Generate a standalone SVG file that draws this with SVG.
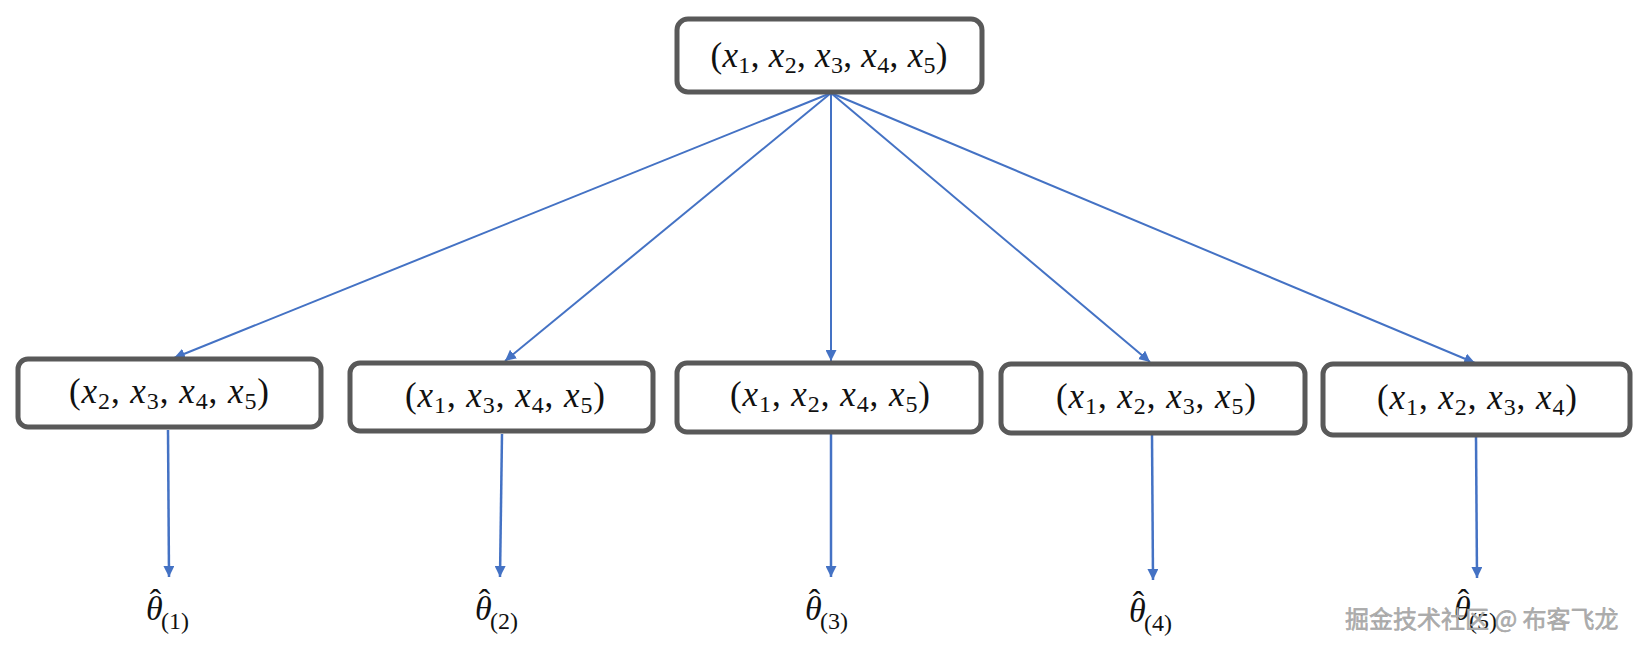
<svg xmlns="http://www.w3.org/2000/svg" width="1650" height="652" viewBox="0 0 1650 652">
<defs>
<style>
.box{fill:#fff;stroke:#595959;stroke-width:5}
.lbl{font-family:"Liberation Serif","DejaVu Serif",serif;font-size:35px;fill:#111}
.v{font-style:italic}
.s{font-size:24px}
.th{font-family:"Liberation Serif","DejaVu Serif",serif;font-size:34px;fill:#111}
.ts{font-size:24px}
.edge{stroke:#4472C4;stroke-width:2;fill:none}
.down{stroke:#4472C4;stroke-width:2.5;fill:none}
.wm{font-family:"Noto Sans CJK SC","Liberation Sans",sans-serif;font-size:24px;fill:#ababab;stroke:#7a7a7a;stroke-width:0.4;paint-order:stroke}
</style>
<marker id="ah" viewBox="0 0 10 10" refX="10" refY="5" markerWidth="11" markerHeight="11" markerUnits="userSpaceOnUse" orient="auto">
<path d="M0,0 L10,5 L0,10 z" fill="#4472C4"/>
</marker>
</defs>
<rect width="1650" height="652" fill="#fff"/>

<g id="connectors">
<line class="edge" x1="831" y1="93" x2="174" y2="358" marker-end="url(#ah)"/>
<line class="edge" x1="831" y1="93" x2="505" y2="361" marker-end="url(#ah)"/>
<line class="edge" x1="831" y1="93" x2="831" y2="361" marker-end="url(#ah)"/>
<line class="edge" x1="831" y1="93" x2="1150" y2="362" marker-end="url(#ah)"/>
<line class="edge" x1="831" y1="93" x2="1475" y2="363" marker-end="url(#ah)"/>
<line class="down" x1="168" y1="430" x2="169" y2="577" marker-end="url(#ah)"/>
<line class="down" x1="502" y1="434" x2="500" y2="577" marker-end="url(#ah)"/>
<line class="down" x1="831" y1="434" x2="831" y2="577" marker-end="url(#ah)"/>
<line class="down" x1="1152" y1="435" x2="1153" y2="580" marker-end="url(#ah)"/>
<line class="down" x1="1476" y1="437" x2="1477" y2="578" marker-end="url(#ah)"/>
</g>

<g id="root">
<rect class="box" x="677" y="19" width="305" height="73" rx="11"/>
<text class="lbl" x="829" y="67" text-anchor="middle" textLength="237" lengthAdjust="spacing">(<tspan class="v">x</tspan><tspan class="s" dy="6">1</tspan><tspan dy="-6">, </tspan><tspan class="v">x</tspan><tspan class="s" dy="6">2</tspan><tspan dy="-6">, </tspan><tspan class="v">x</tspan><tspan class="s" dy="6">3</tspan><tspan dy="-6">, </tspan><tspan class="v">x</tspan><tspan class="s" dy="6">4</tspan><tspan dy="-6">, </tspan><tspan class="v">x</tspan><tspan class="s" dy="6">5</tspan><tspan dy="-6">)</tspan></text>
</g>

<g id="n1">
<rect class="box" x="18" y="359" width="303" height="68" rx="10"/>
<text class="lbl" x="169" y="403" text-anchor="middle" textLength="200" lengthAdjust="spacing">(<tspan class="v">x</tspan><tspan class="s" dy="6">2</tspan><tspan dy="-6">, </tspan><tspan class="v">x</tspan><tspan class="s" dy="6">3</tspan><tspan dy="-6">, </tspan><tspan class="v">x</tspan><tspan class="s" dy="6">4</tspan><tspan dy="-6">, </tspan><tspan class="v">x</tspan><tspan class="s" dy="6">5</tspan><tspan dy="-6">)</tspan></text>
</g>

<g id="n2">
<rect class="box" x="350" y="363" width="303" height="68" rx="10"/>
<text class="lbl" x="505" y="407" text-anchor="middle" textLength="200" lengthAdjust="spacing">(<tspan class="v">x</tspan><tspan class="s" dy="6">1</tspan><tspan dy="-6">, </tspan><tspan class="v">x</tspan><tspan class="s" dy="6">3</tspan><tspan dy="-6">, </tspan><tspan class="v">x</tspan><tspan class="s" dy="6">4</tspan><tspan dy="-6">, </tspan><tspan class="v">x</tspan><tspan class="s" dy="6">5</tspan><tspan dy="-6">)</tspan></text>
</g>

<g id="n3">
<rect class="box" x="677" y="363" width="304" height="69" rx="10"/>
<text class="lbl" x="830" y="406" text-anchor="middle" textLength="200" lengthAdjust="spacing">(<tspan class="v">x</tspan><tspan class="s" dy="6">1</tspan><tspan dy="-6">, </tspan><tspan class="v">x</tspan><tspan class="s" dy="6">2</tspan><tspan dy="-6">, </tspan><tspan class="v">x</tspan><tspan class="s" dy="6">4</tspan><tspan dy="-6">, </tspan><tspan class="v">x</tspan><tspan class="s" dy="6">5</tspan><tspan dy="-6">)</tspan></text>
</g>

<g id="n4">
<rect class="box" x="1001" y="364" width="304" height="69" rx="10"/>
<text class="lbl" x="1156" y="408" text-anchor="middle" textLength="200" lengthAdjust="spacing">(<tspan class="v">x</tspan><tspan class="s" dy="6">1</tspan><tspan dy="-6">, </tspan><tspan class="v">x</tspan><tspan class="s" dy="6">2</tspan><tspan dy="-6">, </tspan><tspan class="v">x</tspan><tspan class="s" dy="6">3</tspan><tspan dy="-6">, </tspan><tspan class="v">x</tspan><tspan class="s" dy="6">5</tspan><tspan dy="-6">)</tspan></text>
</g>

<g id="n5">
<rect class="box" x="1323" y="364" width="307" height="71" rx="10"/>
<text class="lbl" x="1477" y="409" text-anchor="middle" textLength="200" lengthAdjust="spacing">(<tspan class="v">x</tspan><tspan class="s" dy="6">1</tspan><tspan dy="-6">, </tspan><tspan class="v">x</tspan><tspan class="s" dy="6">2</tspan><tspan dy="-6">, </tspan><tspan class="v">x</tspan><tspan class="s" dy="6">3</tspan><tspan dy="-6">, </tspan><tspan class="v">x</tspan><tspan class="s" dy="6">4</tspan><tspan dy="-6">)</tspan></text>
</g>

<g id="t1"><text class="th" x="146" y="620"><tspan class="v">θ</tspan><tspan dx="-13" dy="-7">ˆ</tspan><tspan class="ts" dx="0" dy="16">(1)</tspan></text></g>
<g id="t2"><text class="th" x="475" y="620"><tspan class="v">θ</tspan><tspan dx="-13" dy="-7">ˆ</tspan><tspan class="ts" dx="0" dy="16">(2)</tspan></text></g>
<g id="t3"><text class="th" x="805" y="620"><tspan class="v">θ</tspan><tspan dx="-13" dy="-7">ˆ</tspan><tspan class="ts" dx="0" dy="16">(3)</tspan></text></g>
<g id="t4"><text class="th" x="1129" y="622"><tspan class="v">θ</tspan><tspan dx="-13" dy="-7">ˆ</tspan><tspan class="ts" dx="0" dy="16">(4)</tspan></text></g>
<g id="t5"><text class="th" x="1454" y="620"><tspan class="v">θ</tspan><tspan dx="-13" dy="-7">ˆ</tspan><tspan class="ts" dx="0" dy="16">(5)</tspan></text></g>

<g id="watermark"><text class="wm" x="1345" y="628">掘金技术社区 @ 布客飞龙</text></g>
</svg>
